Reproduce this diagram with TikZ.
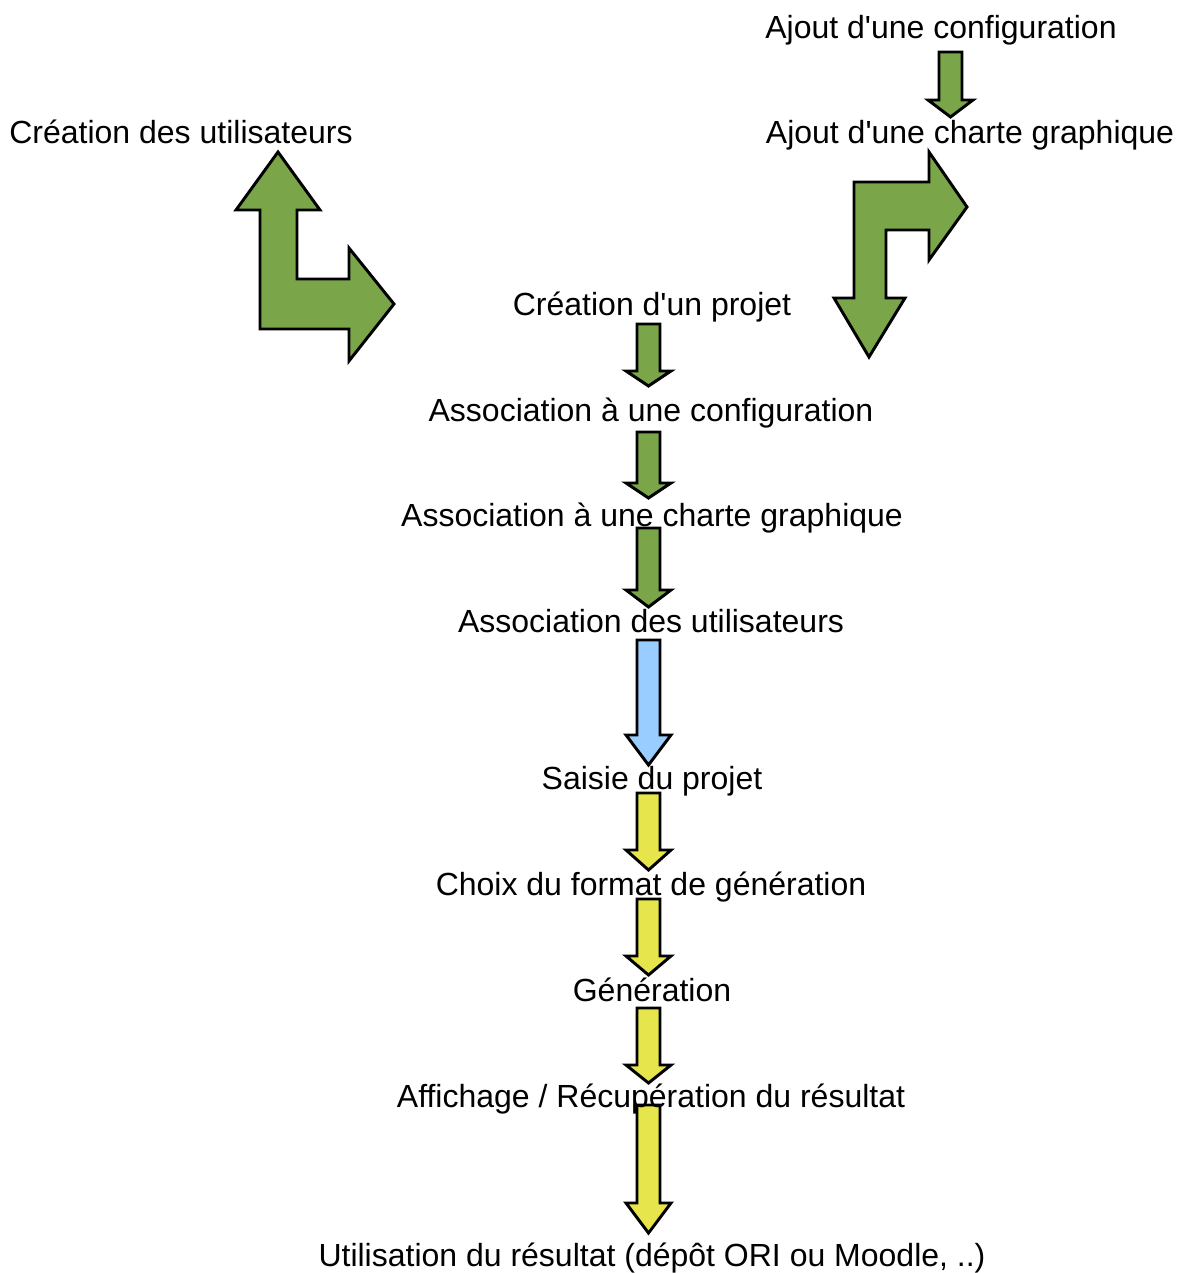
\documentclass[tikz,border=0pt]{standalone}
\usepackage{fontspec}
\setmainfont{Liberation Sans}
\definecolor{vert}{RGB}{122,165,72}
\definecolor{bleu}{RGB}{153,204,255}
\definecolor{jaune}{RGB}{230,229,76}
\tikzset{
  etape/.style={anchor=base,inner sep=0pt,font=\fontsize{24}{28}\selectfont},
  bloc/.style={draw=black,line width=2.2pt,line join=miter}
}
% fleche vers le bas : couleur, x, haut, base de la pointe, pointe
\newcommand{\flechebas}[5]{%
  \draw[bloc,fill=#1] (#2-11.5,#3) -- (#2+11.5,#3) -- (#2+11.5,#4) -- (#2+22.5,#4)
    -- (#2,#5) -- (#2-22.5,#4) -- (#2-11.5,#4) -- cycle;}

\begin{document}
\begin{tikzpicture}[x=0.75pt,y=-0.75pt]
  \useasboundingbox (0,0) rectangle (1180,1273);
  %FLECHES COUDEES
  \draw[bloc,fill=vert] (278,152) -- (320,210) -- (297,210) -- (297,279) -- (349,279) -- (349,248) -- (394,304) -- (349,361) -- (349,329) -- (260,329) -- (260,210) -- (236,210) -- cycle;
  \draw[bloc,fill=vert] (854,182) -- (929,182) -- (929,152) -- (967,207) -- (929,260) -- (929,230) -- (886,230) -- (886,298) -- (905,298) -- (869,357) -- (834,298) -- (854,298) -- cycle;
  %FLECHES
  \flechebas{vert}{950.5}{52}{100}{117}
  \flechebas{vert}{648.5}{324}{371}{386}
  \flechebas{vert}{648.5}{432}{483}{498}
  \flechebas{vert}{648.5}{528}{590}{607}
  \flechebas{bleu}{648.5}{640}{735}{765}
  \flechebas{jaune}{648.5}{793}{850}{870}
  \flechebas{jaune}{648.5}{899}{956}{975}
  \flechebas{jaune}{648.5}{1008}{1065}{1083}
  \flechebas{jaune}{648.5}{1105}{1203}{1233}
  %TEXTES
  \node[etape] (config) at (941,39) {Ajout d\textquotesingle une configuration};
  \node[etape] (charte) at (970,144) {Ajout d\textquotesingle une charte graphique};
  \node[etape] (utilisateurs) at (181,144) {Création des utilisateurs};
  \node[etape] (projet) at (652,315) {Création d\textquotesingle un projet};
  \node[etape] (assocconfig) at (651,421) {Association à une configuration};
  \node[etape] (assoccharte) at (652,526) {Association à une charte graphique};
  \node[etape] (assocutil) at (651,632) {Association des utilisateurs};
  \node[etape] (saisie) at (652,789) {Saisie du projet};
  \node[etape] (format) at (651,895) {Choix du format de génération};
  \node[etape] (generation) at (652,1001) {Génération};
  \node[etape] (affichage) at (651,1107) {Affichage / Récupération du résultat};
  \node[etape] (utilisation) at (652,1266) {Utilisation du résultat (dépôt ORI ou Moodle, ..)};
\end{tikzpicture}
\end{document}
